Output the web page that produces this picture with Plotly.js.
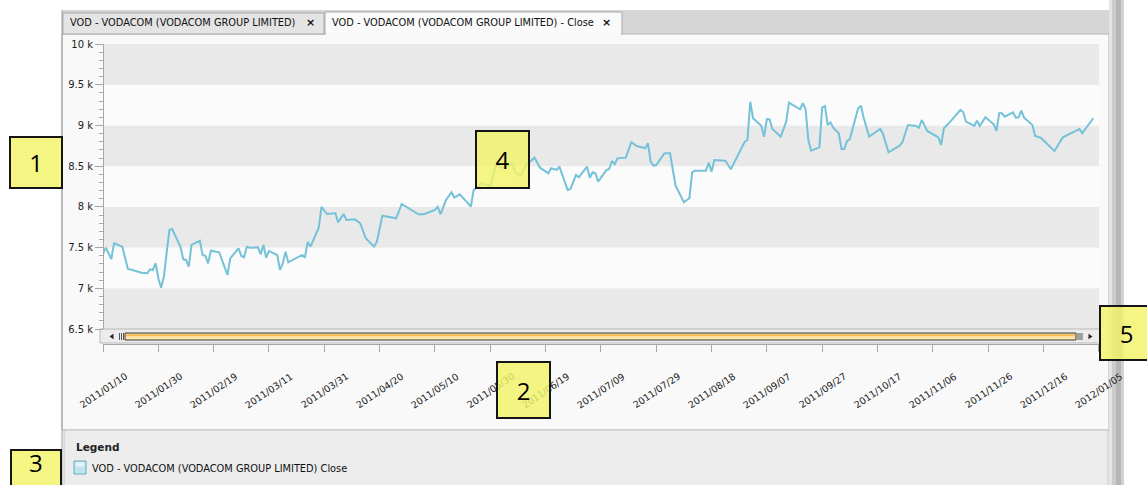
<!DOCTYPE html>
<html><head><meta charset="utf-8">
<script src="https://cdn.plot.ly/plotly-3.0.1.min.js"></script>
<style>html,body{margin:0;padding:0;background:#fff;overflow:hidden}#chart{width:1147px;height:485px}</style>
</head><body><div id="chart"></div>
<script>
const seriesName = 'VOD - VODACOM (VODACOM GROUP LIMITED) Close';
const tabTitles = ['VOD - VODACOM (VODACOM GROUP LIMITED)', 'VOD - VODACOM (VODACOM GROUP LIMITED) - Close'];
const legendTitle = 'Legend';
const calloutNumbers = ['1', '2', '3', '4', '5'];

const dates = [
'2011-01-10','2011-01-11','2011-01-13','2011-01-14','2011-01-17','2011-01-19','2011-01-20','2011-01-24','2011-01-26','2011-01-27',
'2011-01-28','2011-01-29','2011-01-30','2011-01-31','2011-02-01','2011-02-03','2011-02-04','2011-02-07','2011-02-08','2011-02-09',
'2011-02-10','2011-02-11','2011-02-14','2011-02-15','2011-02-16','2011-02-17','2011-02-18','2011-02-21','2011-02-22','2011-02-24',
'2011-02-25','2011-02-28','2011-03-01','2011-03-02','2011-03-03','2011-03-04','2011-03-07','2011-03-08','2011-03-09','2011-03-10',
'2011-03-11','2011-03-14','2011-03-15','2011-03-16','2011-03-17','2011-03-18','2011-03-23','2011-03-24','2011-03-25','2011-03-26',
'2011-03-29','2011-03-30','2011-04-01','2011-04-04','2011-04-05','2011-04-07','2011-04-08','2011-04-11','2011-04-13','2011-04-15',
'2011-04-18','2011-04-19','2011-04-21','2011-04-26','2011-04-28','2011-05-04','2011-05-06','2011-05-10','2011-05-11','2011-05-12',
'2011-05-14','2011-05-16','2011-05-17','2011-05-19','2011-05-23','2011-05-24','2011-05-27','2011-05-30','2011-06-01','2011-06-04',
'2011-06-07','2011-06-08','2011-06-10','2011-06-12','2011-06-15','2011-06-17','2011-06-20','2011-06-21','2011-06-23','2011-06-24',
'2011-06-27','2011-06-28','2011-06-30','2011-07-01','2011-07-04','2011-07-05','2011-07-06','2011-07-07','2011-07-08','2011-07-11',
'2011-07-12','2011-07-13','2011-07-14','2011-07-15','2011-07-18','2011-07-20','2011-07-22','2011-07-25','2011-07-26','2011-07-27',
'2011-07-28','2011-07-29','2011-08-01','2011-08-03','2011-08-05','2011-08-08','2011-08-10','2011-08-11','2011-08-12','2011-08-16',
'2011-08-17','2011-08-18','2011-08-19','2011-08-23','2011-08-25','2011-08-30','2011-08-31','2011-09-01','2011-09-02','2011-09-05',
'2011-09-06','2011-09-07','2011-09-08','2011-09-09','2011-09-12','2011-09-14','2011-09-15','2011-09-19','2011-09-20','2011-09-21',
'2011-09-22','2011-09-23','2011-09-26','2011-09-27','2011-09-28','2011-09-29','2011-09-30','2011-10-01','2011-10-03','2011-10-04',
'2011-10-05','2011-10-06','2011-10-07','2011-10-10','2011-10-11','2011-10-12','2011-10-14','2011-10-18','2011-10-19','2011-10-21',
'2011-10-25','2011-10-26','2011-10-28','2011-10-31','2011-11-01','2011-11-02','2011-11-04','2011-11-07','2011-11-08','2011-11-09',
'2011-11-10','2011-11-12','2011-11-16','2011-11-17','2011-11-18','2011-11-21','2011-11-22','2011-11-23','2011-11-25','2011-11-28',
'2011-11-29','2011-11-30','2011-12-01','2011-12-02','2011-12-05','2011-12-06','2011-12-07','2011-12-08','2011-12-09','2011-12-12',
'2011-12-13','2011-12-15','2011-12-20','2011-12-23','2011-12-29','2011-12-30','2012-01-03'];

const closes = [
7420,7500,7360,7555,7510,7237,7230,7192,7184,7233,
7225,7307,7123,7007,7142,7716,7728,7511,7356,7348,
7265,7532,7585,7409,7400,7307,7462,7442,7348,7163,
7368,7491,7397,7381,7511,7499,7503,7418,7532,7376,
7458,7409,7225,7307,7449,7319,7409,7376,7572,7511,
7744,8000,7912,7921,7810,7912,7839,7847,7798,7614,
7511,7572,7892,7860,8035,7909,7909,7962,8002,7909,
8084,8179,8113,8154,8002,8207,8289,8256,8514,8474,
8535,8424,8383,8514,8604,8481,8412,8474,8453,8493,
8207,8219,8391,8363,8493,8358,8424,8412,8309,8453,
8465,8563,8523,8596,8604,8793,8747,8719,8781,8555,
8506,8514,8658,8658,8260,8056,8105,8424,8444,8444,
8543,8432,8576,8567,8461,8800,8821,9291,9088,8997,
8862,9079,9075,8956,8862,9046,9279,9198,9272,9202,
8821,8690,8731,9220,9239,9005,9038,8972,8903,8711,
8711,8809,8833,9210,9242,9095,8862,8956,8895,8670,
8751,8793,9005,8993,8972,9067,8932,8870,8854,8760,
8965,9034,9190,9161,9046,8993,9058,8993,9100,9014,
8932,9149,9149,9107,9161,9095,9100,9181,9095,9005,
8870,8849,8686,8854,8956,8903,9088];

const xTickDates = ['2011-01-10','2011-01-30','2011-02-19','2011-03-11','2011-03-31','2011-04-20','2011-05-10','2011-05-30','2011-06-19','2011-07-09','2011-07-29','2011-08-18','2011-09-07','2011-09-27','2011-10-17','2011-11-06','2011-11-26','2011-12-16','2012-01-05'];
const xTickLabels = ['2011/01/10','2011/01/30','2011/02/19','2011/03/11','2011/03/31','2011/04/20','2011/05/10','2011/05/30','2011/06/19','2011/07/09','2011/07/29','2011/08/18','2011/09/07','2011/09/27','2011/10/17','2011/11/06','2011/11/26','2011/12/16','2012/01/05'];
const yTickVals = [6500,7000,7500,8000,8500,9000,9500,10000];
const yTickText = ['6.5 k','7 k','7.5 k','8 k','8.5 k','9 k','9.5 k','10 k'];

const W = 1147, H = 485;
const X = p => p / W;
const Y = p => 1 - p / H;
const FONT = 'DejaVu Sans';

function rect(x0, y0, x1, y1, fill, line, lw, layer) {
  return {type: 'rect', xref: 'paper', yref: 'paper', x0: X(x0), x1: X(x1), y0: Y(y1), y1: Y(y0),
    fillcolor: fill, line: {color: line || 'rgba(0,0,0,0)', width: line ? (lw || 1) : 0}, layer: layer || 'below'};
}
function seg(x0, y0, x1, y1, color, w, layer) {
  return {type: 'line', xref: 'paper', yref: 'paper', x0: X(x0), x1: X(x1), y0: Y(y0), y1: Y(y1),
    line: {color: color, width: w || 1}, layer: layer || 'below'};
}
function tri(pts, fill) {
  const d = pts.map((p, i) => (i ? 'L' : 'M') + X(p[0]) + ',' + Y(p[1])).join(' ') + ' Z';
  return {type: 'path', xref: 'paper', yref: 'paper', path: d, fillcolor: fill, line: {width: 0}, layer: 'above'};
}

const shapes = [];
// tab strip and panel
shapes.push(rect(62, 10, 1112, 34, '#d6d6d6'));
shapes.push(rect(62, 34, 1109, 430, '#f9f9f9', '#b4b4b4', 1));
shapes.push(rect(63, 13, 324, 34, '#e4e4e4', '#a9a9a9', 1));
shapes.push(rect(325, 12, 622, 34, '#fafafa', '#a9a9a9', 1));
shapes.push(rect(326, 32.5, 621, 35.5, '#fafafa'));
shapes.push(seg(62, 10, 62, 485, '#9c9c9c', 1));
// right splitter
shapes.push(rect(1109, 0, 1112, 485, '#e4e4e4'));
shapes.push(rect(1112, 0, 1116, 485, '#cccccc'));
shapes.push(rect(1116, 0, 1121, 485, '#b6b6b6'));
shapes.push(rect(1121, 0, 1124, 485, '#d2d2d2'));
// bands
for (let i = 0; i < yTickVals.length - 1; i++) {
  shapes.push({type: 'rect', xref: 'x domain', yref: 'y', x0: 0, x1: 1, y0: yTickVals[i], y1: yTickVals[i + 1],
    fillcolor: (i % 2 === 0) ? '#e9e9e9' : '#fbfbfb', line: {width: 0}, layer: 'below'});
}
// scrollbar
shapes.push(rect(100, 329, 1100, 343, '#ececec', '#b8b8b8', 1));
shapes.push(rect(125, 333, 1076, 340, '#fde5ac', '#3a3a3a', 1));
shapes.push(rect(126, 334, 1075, 336.3, '#f5bd5c'));
[119.5, 121.5, 123.5, 1078, 1080, 1082].forEach(x => shapes.push(seg(x, 333, x, 340, '#555', 1)));
shapes.push(tri([[109.5, 336.5], [113.5, 333.8], [113.5, 339.2]], '#222'));
shapes.push(tri([[1092.5, 336.5], [1088.5, 333.8], [1088.5, 339.2]], '#222'));
// legend panel
shapes.push(rect(64, 430, 1108, 490, '#ececec', '#c2c2c2', 1));
shapes.push(rect(74, 461, 86, 474, '#bfe2ef', '#6aa8c3', 1));
shapes.push(rect(75.5, 462.5, 84.5, 466.5, '#e4f3f9'));
// callout box 3 (cut by the page bottom)
shapes.push(rect(11, 450, 61, 500, 'rgba(243,243,105,0.82)', '#151515', 2, 'above'));

const annotations = [];
// tab texts
annotations.push({x: X(68), y: Y(22.5), xref: 'paper', yref: 'paper', xanchor: 'left', yanchor: 'middle', showarrow: false,
  text: tabTitles[0], font: {family: FONT, size: 9.8, color: '#111'}});
annotations.push({x: X(310), y: Y(22.5), xref: 'paper', yref: 'paper', xanchor: 'center', yanchor: 'middle', showarrow: false,
  text: '<b>×</b>', font: {family: FONT, size: 11, color: '#111'}});
annotations.push({x: X(330), y: Y(22.5), xref: 'paper', yref: 'paper', xanchor: 'left', yanchor: 'middle', showarrow: false,
  text: tabTitles[1], font: {family: FONT, size: 9.8, color: '#111'}});
annotations.push({x: X(606), y: Y(22.5), xref: 'paper', yref: 'paper', xanchor: 'center', yanchor: 'middle', showarrow: false,
  text: '<b>×</b>', font: {family: FONT, size: 11, color: '#111'}});
// x tick labels (centred on ticks, rotated)
xTickDates.forEach((d, i) => annotations.push({x: d, xref: 'x', y: Y(390), yref: 'paper', textangle: -34,
  xanchor: 'center', yanchor: 'middle', showarrow: false, text: xTickLabels[i], font: {family: FONT, size: 9.5, color: '#1a1a1a'}}));
// legend
annotations.push({x: X(74), y: Y(447), xref: 'paper', yref: 'paper', xanchor: 'left', yanchor: 'middle', showarrow: false,
  text: '<b>' + legendTitle + '</b>', font: {family: FONT, size: 10.5, color: '#222'}});
annotations.push({x: X(90), y: Y(468), xref: 'paper', yref: 'paper', xanchor: 'left', yanchor: 'middle', showarrow: false,
  text: seriesName, font: {family: FONT, size: 9.8, color: '#111'}});
// callout boxes
const boxes = [[36, 162.5, 50, 49], [523.5, 390, 51, 54], null, [502, 160, 51, 55], [1126.5, 333, 51, 52]];
boxes.forEach((b, i) => {
  if (!b) return;
  annotations.push({x: X(b[0]), y: Y(b[1]), xref: 'paper', yref: 'paper', xanchor: 'center', yanchor: 'middle',
    showarrow: false, text: calloutNumbers[i], width: b[2], height: b[3], borderpad: 0,
    bgcolor: 'rgba(243,243,105,0.82)', bordercolor: '#151515', borderwidth: 2,
    font: {family: 'Open Sans', size: 24, color: '#000'}});
});
annotations.push({x: X(36), y: Y(462), xref: 'paper', yref: 'paper', xanchor: 'center', yanchor: 'middle', showarrow: false,
  text: calloutNumbers[2], font: {family: 'Open Sans', size: 24, color: '#000'}});

const trace = {x: dates, y: closes, type: 'scatter', mode: 'lines', name: seriesName,
  line: {color: '#74c2d8', width: 2}, hoverinfo: 'skip'};

const layout = {
  width: W, height: H, margin: {l: 0, r: 0, t: 0, b: 0},
  paper_bgcolor: '#ffffff', plot_bgcolor: 'rgba(0,0,0,0)', showlegend: false,
  xaxis: {type: 'date', domain: [X(103), X(1099)], range: ['2011-01-10', '2012-01-05 02:00'], anchor: 'free', position: Y(344),
    showline: true, linecolor: '#a8a8a8', linewidth: 1, ticks: 'outside', ticklen: 7, tickcolor: '#a8a8a8', tickwidth: 1,
    tickmode: 'array', tickvals: xTickDates, showticklabels: false, showgrid: false, zeroline: false, fixedrange: true},
  yaxis: {domain: [Y(329), Y(44)], range: [6500, 10000], anchor: 'free', position: X(103),
    showline: true, linecolor: '#a8a8a8', linewidth: 1, ticks: 'outside', ticklen: 8, tickcolor: '#a8a8a8', tickwidth: 1,
    tickmode: 'array', tickvals: yTickVals, ticktext: yTickText,
    tickfont: {family: FONT, size: 10, color: '#222'},
    minor: {tickmode: 'linear', tick0: 6500, dtick: 100, ticks: 'outside', ticklen: 4, tickcolor: '#a8a8a8', showgrid: false},
    showgrid: false, zeroline: false, fixedrange: true},
  shapes: shapes, annotations: annotations
};

Plotly.newPlot('chart', [trace], layout, {displayModeBar: false, staticPlot: true});
</script></body></html>
